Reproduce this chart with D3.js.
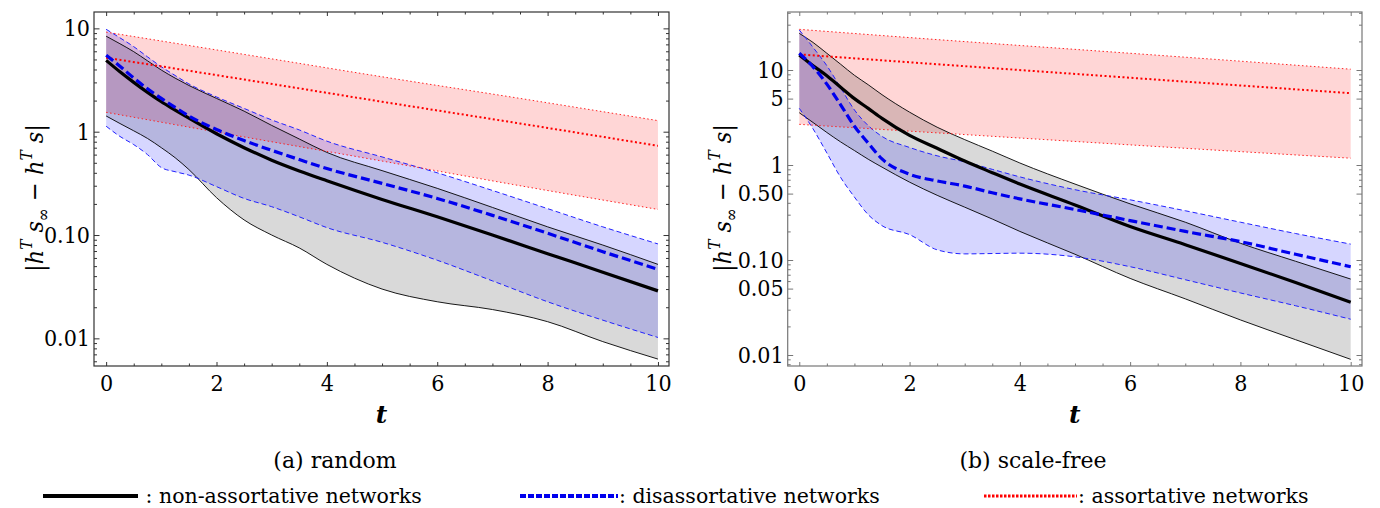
<html>
<head>
	<script src="https://d3js.org/d3.v7.min.js"></script>
	<style>
		body { margin: 0; background: #fff; }
		svg text, svg tspan { font-family: "DejaVu Serif", "Liberation Serif", "Noto Serif", serif; }
		svg text.cond { font-family: "DejaVu Serif Condensed", "DejaVu Serif", serif; font-stretch: condensed; }
	</style>
</head>
<body>
	<script>
		// time grid shared by the black and blue curves
		var tValues = [0, 0.25, 0.5, 0.75, 1, 1.25, 1.5, 2, 2.5, 3, 3.5, 4, 5, 6, 7, 8, 9, 10];
		// red curves are straight on the log axis, read at fewer points
		var redT = [0, 2.5, 5, 7.5, 10];

		// (a) random
		var randNonMean  = [4.9, 3.8, 3.0, 2.4, 1.95, 1.62, 1.35, 0.955, 0.70, 0.53, 0.417, 0.335, 0.221, 0.150, 0.100, 0.066, 0.0437, 0.0288];
		var randNonUpper = [8.4, 7.1, 5.95, 4.85, 3.95, 3.3, 2.8, 2.1, 1.58, 1.15, 0.85, 0.63, 0.42, 0.283, 0.185, 0.12, 0.08, 0.052];
		var randNonLower = [1.42, 1.2, 1.02, 0.86, 0.70, 0.56, 0.43, 0.23, 0.14, 0.1, 0.075, 0.052, 0.030, 0.0226, 0.019, 0.0145, 0.0093, 0.0063];
		var randDisMean  = [5.5, 4.3, 3.31, 2.6, 2.1, 1.72, 1.42, 1.05, 0.82, 0.66, 0.537, 0.44, 0.316, 0.226, 0.155, 0.104, 0.069, 0.0466];
		var randDisUpper = [9.8, 8.1, 6.65, 5.3, 4.25, 3.5, 2.9, 2.17, 1.68, 1.3, 1.04, 0.81, 0.57, 0.40, 0.27, 0.18, 0.12, 0.082];
		var randDisLower = [1.13, 0.9, 0.75, 0.6, 0.45, 0.41, 0.38, 0.294, 0.226, 0.188, 0.15, 0.118, 0.085, 0.057, 0.036, 0.0226, 0.015, 0.0102];
		var randAssMean  = [5.2, 3.2, 1.95, 1.2, 0.73];
		var randAssUpper = [9.2, 5.6, 3.4, 2.1, 1.28];
		var randAssLower = [1.54, 0.89, 0.52, 0.30, 0.177];

		// (b) scale-free
		var sfNonMean  = [14.4, 11.1, 8.7, 6.6, 5.0, 3.95, 3.1, 2.05, 1.5, 1.1, 0.83, 0.63, 0.38, 0.225, 0.145, 0.092, 0.058, 0.036];
		var sfNonUpper = [24.3, 19.5, 15.0, 11.5, 8.8, 7.0, 5.5, 3.6, 2.5, 1.85, 1.4, 1.05, 0.63, 0.39, 0.25, 0.15, 0.097, 0.063];
		var sfNonLower = [3.55, 2.8, 2.2, 1.75, 1.42, 1.15, 0.95, 0.66, 0.48, 0.36, 0.27, 0.2, 0.115, 0.064, 0.039, 0.0234, 0.0145, 0.009];
		var sfDisMean  = [15.0, 10.8, 7.1, 4.3, 2.56, 1.7, 1.16, 0.8, 0.68, 0.6, 0.51, 0.44, 0.34, 0.26, 0.2, 0.156, 0.115, 0.085];
		var sfDisUpper = [26.4, 17.3, 11.1, 6.5, 3.8, 2.6, 2.0, 1.53, 1.25, 1.08, 0.9, 0.75, 0.55, 0.43, 0.33, 0.25, 0.19, 0.147];
		var sfDisLower = [3.95, 2.4, 1.34, 0.74, 0.46, 0.3, 0.23, 0.185, 0.128, 0.116, 0.117, 0.118, 0.108, 0.085, 0.062, 0.045, 0.033, 0.0238];
		var sfAssMean  = [14.6, 11.5, 9.1, 7.2, 5.7];
		var sfAssUpper = [26.8, 20.9, 16.5, 13.0, 10.2];
		var sfAssLower = [2.68, 2.18, 1.77, 1.44, 1.18];

		// tick labels
		var xTicks = [0, 2, 4, 6, 8, 10];
		var randYTicks = [10, 1, 0.1, 0.01];
		var randYLabels = ["10", "1", "0.10", "0.01"];
		var sfYTicks = [10, 5, 1, 0.5, 0.1, 0.05, 0.01];
		var sfYLabels = ["10", "5", "1", "0.50", "0.10", "0.05", "0.01"];

		var captions = ["(a) random", "(b) scale-free"];
		var legendNames = [" : non-assortative networks", ": disassortative networks", ": assortative networks"];

		var w = 1380, h = 508;
		var svg = d3.select("body").append("svg").attr("width", w).attr("height", h);

		function zip(ts, vals) {
			return ts.map(function(t, i){ return {t: t, v: vals[i]}; });
		}
		function band(ts, lo, hi) {
			return ts.map(function(t, i){ return {t: t, lo: lo[i], hi: hi[i]}; });
		}

		function drawPanel(p) {
			var x = d3.scaleLinear().domain(p.xDom).range([p.left, p.right]);
			var y = d3.scaleLog().domain(p.yDom).range([p.bottom, p.top]);
			var g = svg.append("g");

			var area = d3.area().curve(d3.curveMonotoneX)
				.x(function(d){ return x(d.t); })
				.y0(function(d){ return y(d.lo); })
				.y1(function(d){ return y(d.hi); });
			var line = d3.line().curve(d3.curveMonotoneX)
				.x(function(d){ return x(d.t); })
				.y(function(d){ return y(d.v); });

			// bands
			g.append("path").attr("d", area(band(redT, p.assLower, p.assUpper)))
				.attr("fill", "red").attr("fill-opacity", 0.16);
			g.append("path").attr("d", area(band(tValues, p.nonLower, p.nonUpper)))
				.attr("fill", "black").attr("fill-opacity", 0.15);
			g.append("path").attr("d", area(band(tValues, p.disLower, p.disUpper)))
				.attr("fill", "blue").attr("fill-opacity", 0.16);

			// bound lines
			[p.nonUpper, p.nonLower].forEach(function(s){
				g.append("path").attr("d", line(zip(tValues, s))).attr("fill", "none")
					.attr("stroke", "black").attr("stroke-width", 0.9);
			});
			[p.disUpper, p.disLower].forEach(function(s){
				g.append("path").attr("d", line(zip(tValues, s))).attr("fill", "none")
					.attr("stroke", "#2222ff").attr("stroke-width", 1).attr("stroke-dasharray", "5,3");
			});
			[p.assUpper, p.assLower].forEach(function(s){
				g.append("path").attr("d", line(zip(redT, s))).attr("fill", "none")
					.attr("stroke", "#ff2222").attr("stroke-width", 1).attr("stroke-dasharray", "1.5,2.5");
			});

			// mean lines
			g.append("path").attr("d", line(zip(redT, p.assMean))).attr("fill", "none")
				.attr("stroke", "red").attr("stroke-width", 2).attr("stroke-dasharray", "2,2.5");
			g.append("path").attr("d", line(zip(tValues, p.nonMean))).attr("fill", "none")
				.attr("stroke", "black").attr("stroke-width", 3.2);
			g.append("path").attr("d", line(zip(tValues, p.disMean))).attr("fill", "none")
				.attr("stroke", "#0000ee").attr("stroke-width", 3.2).attr("stroke-dasharray", "9,4");

			// minor ticks
			var xMinor = d3.range(0, 10.01, 0.5).filter(function(d){ return d % 2 !== 0; });
			var yMinor = [];
			[0.001, 0.01, 0.1, 1, 10].forEach(function(dec){
				for (var k = 2; k <= 9; k++) {
					var v = dec * k;
					if (v >= p.yDom[0] && v <= p.yDom[1] && p.yTicks.indexOf(+v.toPrecision(3)) < 0) yMinor.push(v);
				}
			});

			function styleAxis(a) {
				a.attr("font-family", null);
				a.select(".domain").remove();
				a.selectAll("line").attr("stroke", p.frame);
				a.selectAll("text").attr("class", "cond").attr("font-size", 23).attr("fill", "black");
			}

			g.append("g").attr("transform", "translate(0," + p.bottom + ")")
				.call(d3.axisBottom(x).tickValues(xTicks).tickSize(-4).tickPadding(9).tickFormat(d3.format("d"))).call(styleAxis);
			g.append("g").attr("transform", "translate(0," + p.bottom + ")")
				.call(d3.axisBottom(x).tickValues(xMinor).tickSize(-2.5).tickFormat("")).call(styleAxis);
			g.append("g").attr("transform", "translate(0," + p.top + ")")
				.call(d3.axisTop(x).tickValues(xTicks).tickSize(-4).tickFormat("")).call(styleAxis);
			g.append("g").attr("transform", "translate(0," + p.top + ")")
				.call(d3.axisTop(x).tickValues(xMinor).tickSize(-2.5).tickFormat("")).call(styleAxis);

			g.append("g").attr("transform", "translate(" + p.left + ",0)")
				.call(d3.axisLeft(y).tickValues(p.yTicks).tickSize(-5.5).tickPadding(4)
					.tickFormat(function(d, i){ return p.yLabels[i]; })).call(styleAxis);
			g.append("g").attr("transform", "translate(" + p.left + ",0)")
				.call(d3.axisLeft(y).tickValues(yMinor).tickSize(-3).tickFormat("")).call(styleAxis);
			g.append("g").attr("transform", "translate(" + p.right + ",0)")
				.call(d3.axisRight(y).tickValues(p.yTicks).tickSize(-5.5).tickFormat("")).call(styleAxis);
			g.append("g").attr("transform", "translate(" + p.right + ",0)")
				.call(d3.axisRight(y).tickValues(yMinor).tickSize(-3).tickFormat("")).call(styleAxis);

			// frame
			g.append("rect").attr("x", p.left).attr("y", p.top)
				.attr("width", p.right - p.left).attr("height", p.bottom - p.top)
				.attr("fill", "none").attr("stroke", p.frame).attr("stroke-width", 1.2);

			// x label
			g.append("text").attr("x", (p.left + p.right) / 2).attr("y", 423)
				.attr("text-anchor", "middle").attr("font-size", 25).attr("font-style", "italic")
				.attr("font-weight", "bold").text("t");

			// y label |h^T s_inf - h^T s|
			var yl = g.append("text").attr("class", "cond")
				.attr("transform", "translate(" + p.ylabX + ",198) rotate(-90)")
				.attr("text-anchor", "middle").attr("font-size", 25);
			yl.append("tspan").text("|");
			yl.append("tspan").attr("font-style", "italic").text("h");
			yl.append("tspan").attr("font-style", "italic").attr("font-size", 17).attr("dy", -11).text("T");
			yl.append("tspan").attr("font-style", "italic").attr("dy", 11).text(" s");
			yl.append("tspan").attr("font-size", 17).attr("dy", 6).text("\u221e");
			yl.append("tspan").attr("dy", -6).text(" \u2212 ");
			yl.append("tspan").attr("font-style", "italic").text("h");
			yl.append("tspan").attr("font-style", "italic").attr("font-size", 17).attr("dy", -11).text("T");
			yl.append("tspan").attr("font-style", "italic").attr("dy", 11).text(" s");
			yl.append("tspan").text("|");

			// caption
			svg.append("text").attr("x", p.capX).attr("y", 468).attr("text-anchor", "middle")
				.attr("font-size", 22).text(p.caption);
		}

		drawPanel({
			left: 94, right: 669, top: 12, bottom: 366,
			xDom: [-0.22, 10.2], yDom: [0.0054, 14.4], frame: "#333",
			nonMean: randNonMean, nonUpper: randNonUpper, nonLower: randNonLower,
			disMean: randDisMean, disUpper: randDisUpper, disLower: randDisLower,
			assMean: randAssMean, assUpper: randAssUpper, assLower: randAssLower,
			yTicks: randYTicks, yLabels: randYLabels, ylabX: 43, capX: 335, caption: captions[0]
		});
		drawPanel({
			left: 787.7, right: 1362, top: 12, bottom: 366,
			xDom: [-0.21, 10.205], yDom: [0.00766, 40.8], frame: "#777",
			nonMean: sfNonMean, nonUpper: sfNonUpper, nonLower: sfNonLower,
			disMean: sfDisMean, disUpper: sfDisUpper, disLower: sfDisLower,
			assMean: sfAssMean, assUpper: sfAssUpper, assLower: sfAssLower,
			yTicks: sfYTicks, yLabels: sfYLabels, ylabX: 731, capX: 1033, caption: captions[1]
		});

		// legend
		var legY = 496;
		var leg = svg.append("g");
		leg.append("line").attr("x1", 43).attr("x2", 138).attr("y1", legY).attr("y2", legY)
			.attr("stroke", "black").attr("stroke-width", 4);
		leg.append("line").attr("x1", 520).attr("x2", 618).attr("y1", legY).attr("y2", legY)
			.attr("stroke", "#0000ee").attr("stroke-width", 4).attr("stroke-dasharray", "6,2");
		leg.append("line").attr("x1", 984).attr("x2", 1077).attr("y1", legY).attr("y2", legY)
			.attr("stroke", "red").attr("stroke-width", 3).attr("stroke-dasharray", "2.5,1.5");
		[139, 619, 1078].forEach(function(lx, i){
			leg.append("text").attr("x", lx).attr("y", 503).attr("font-size", 20.5)
				.style("white-space", "pre").text(legendNames[i]);
		});
	</script>
</body>
</html>
